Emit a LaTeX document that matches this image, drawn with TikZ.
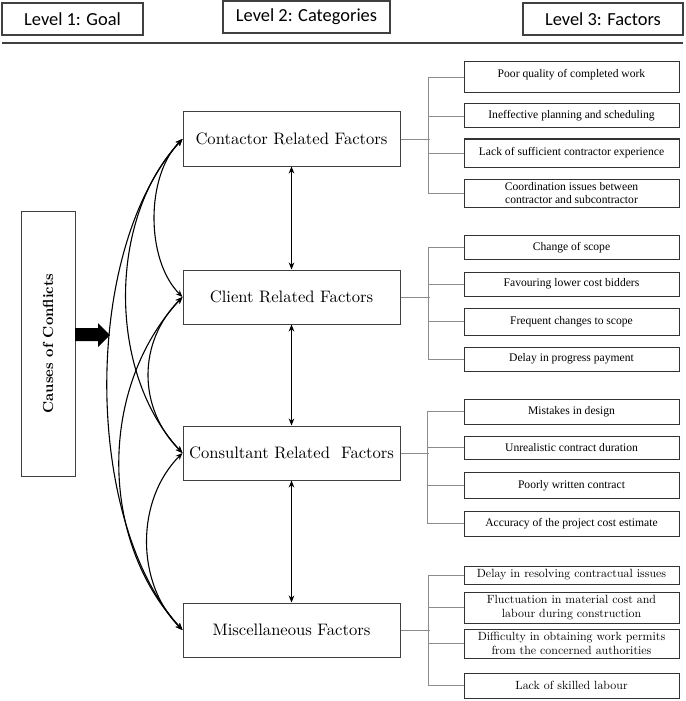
\documentclass[tikz,border=0pt]{standalone}
\usepackage{fontspec}
\newfontfamily\headfont{Carlito}
\newfontfamily\factfont{Liberation Serif}
\newfontfamily\catfont{lmroman10-regular.otf}[BoldFont=lmroman10-bold.otf]
\usetikzlibrary{arrows.meta}

\tikzset{
  header/.style={draw=black!75, line width=0.6pt, inner sep=0pt, minimum height=16pt,
    font=\headfont\fontsize{9.2}{10}\selectfont},
  goalbox/.style={draw=black!75, line width=0.5pt, inner sep=0pt, rotate=90,
    minimum width=132.5pt, minimum height=27pt, font=\catfont\bfseries\fontsize{7.3}{9}\selectfont},
  catbox/.style={draw=black!75, line width=0.5pt, inner sep=0pt, minimum width=108.5pt,
    minimum height=27pt, font=\catfont\fontsize{8.3}{9}\selectfont},
  factbox/.style={draw=black!80, line width=0.5pt, inner sep=0pt, minimum width=107.5pt,
    align=center, font=\factfont\fontsize{5.8}{6.6}\selectfont},
  factboxb/.style={factbox, font=\catfont\fontsize{5.95}{7}\selectfont},
  branch/.style={draw=black!45, line width=0.45pt},
  link/.style={{Stealth[length=3.5pt,width=2.8pt]}-{Stealth[length=3.5pt,width=2.8pt]},
    line width=0.55pt},
}

\begin{document}
\begin{tikzpicture}[x=0.5pt, y=-0.5pt]
  \useasboundingbox (0,0) rectangle (685,701);

  % headings
  \node[header, minimum width=70.5pt] (lev1) at (72.5,19) {Level 1: Goal};
  \node[header, minimum width=83.5pt] (lev2) at (306.5,17) {Level 2: Categories};
  \node[header, minimum width=80pt] (lev3) at (603,19) {Level 3: Factors};
  \draw[black!75, line width=0.75pt] (2,43) -- (683,43);

  % goal
  \node[goalbox] (goal) at (48,343.5) {Causes of Conflicts};
  \fill (75,328) -- (98,328) -- (98,323) -- (110,335) -- (98,347) -- (98,341) -- (75,341) -- cycle;

  % categories
  \node[catbox] (ctr) at (291.5,139) {Contactor Related Factors};
  \node[catbox] (cli) at (291.5,297) {Client Related Factors};
  \node[catbox] (con) at (291.5,453) {Consultant Related\ \ Factors};
  \node[catbox] (mis) at (291.5,630) {Miscellaneous Factors};

  \draw[link] (ctr.south) -- (cli.north);
  \draw[link] (cli.south) -- (con.north);
  \draw[link] (con.south) -- (mis.north);

  \draw[link] (ctr.west) .. controls +(-37,37) and +(-37,-37) .. (cli.west);
  \draw[link] (cli.west) .. controls +(-45,45) and +(-45,-45) .. (con.west);
  \draw[link] (con.west) .. controls +(-47,47) and +(-47,-47) .. (mis.west);
  \draw[link] (ctr.west) .. controls +(-75,80) and +(-75,-80) .. (con.west);
  \draw[link] (cli.west) .. controls +(-84,90) and +(-84,-90) .. (mis.west);
  \draw[link] (ctr.west) .. controls +(-100,110) and +(-100,-110) .. (mis.west);

  % factors of the contractor
  \node[factbox, minimum height=15.5pt, text depth=4pt] (f11) at (571.5,77.5) {Poor quality of completed work};
  \node[factbox, minimum height=12pt] (f12) at (571.5,116) {Ineffective\ planning and scheduling};
  \node[factbox, minimum height=14pt] (f13) at (571.5,153) {Lack of sufficient contractor experience};
  \node[factbox, minimum height=14pt] (f14) at (571.5,193) {Coordination issues between\\contractor and subcontractor};

  % factors of the client
  \node[factbox, minimum height=11.75pt] (f21) at (571.5,247.5) {Change of scope};
  \node[factbox, minimum height=12pt] (f22) at (571.5,284) {Favouring lower cost bidders};
  \node[factbox, minimum height=13.5pt] (f23) at (571.5,321.5) {Frequent changes to scope};
  \node[factbox, minimum height=12pt] (f24) at (571.5,359) {Delay in progress payment};

  % factors of the consultant
  \node[factbox, minimum height=12.5pt] (f31) at (571.5,411.5) {Mistakes in design};
  \node[factbox, minimum height=11.5pt] (f32) at (571.5,447.5) {Unrealistic\ contract duration};
  \node[factbox, minimum height=12.75pt] (f33) at (571.5,485.5) {Poorly written contract};
  \node[factbox, minimum height=12.5pt] (f34) at (571.5,523.5) {Accuracy of the project cost estimate};

  % other factors
  \node[factboxb, minimum height=9pt] (f41) at (571.5,575) {Delay in resolving contractual issues};
  \node[factboxb, minimum height=15.5pt] (f42) at (571.5,607.5) {Fluctuation in material cost and\\labour during construction};
  \node[factboxb, minimum height=14.5pt] (f43) at (571.5,643.5) {Difficulty in obtaining work permits\\from the concerned authorities};
  \node[factboxb, minimum height=12.5pt] (f44) at (571.5,685.5) {Lack of skilled labour};

  % trees
  \draw[branch] (ctr.east) -- ++(29,0);
  \draw[branch] (f11.west) -- ++(-35,0) |- (f14.west);
  \draw[branch] (f12.west) -- ++(-35,0);
  \draw[branch] (f13.west) -- ++(-35,0);

  \draw[branch] (cli.east) -- ++(29,0);
  \draw[branch] (f21.west) -- ++(-35,0) |- (f24.west);
  \draw[branch] (f22.west) -- ++(-35,0);
  \draw[branch] (f23.west) -- ++(-35,0);

  \draw[branch] (con.east) -- ++(28,0);
  \draw[branch] (f31.west) -- ++(-36,0) |- (f34.west);
  \draw[branch] (f32.west) -- ++(-36,0);
  \draw[branch] (f33.west) -- ++(-36,0);

  \draw[branch] (mis.east) -- ++(29,0);
  \draw[branch] (f41.west) -- ++(-35,0) |- (f44.west);
  \draw[branch] (f42.west) -- ++(-35,0);
  \draw[branch] (f43.west) -- ++(-35,0);
\end{tikzpicture}
\end{document}
